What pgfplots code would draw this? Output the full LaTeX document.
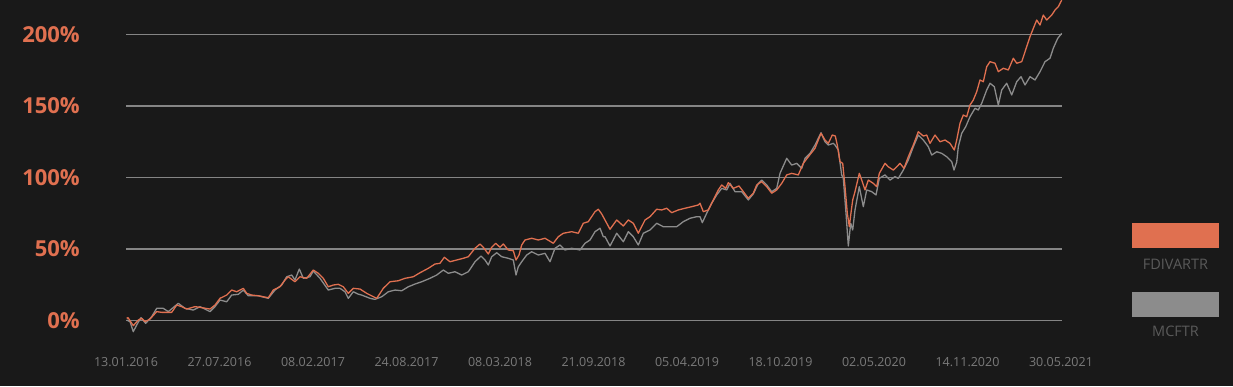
\documentclass[border=0pt]{standalone}
\usepackage{fontspec}
\setmainfont{Open Sans}
\usepackage{pgfplots}
\usepackage{pgfplotstable}
\pgfplotsset{compat=1.18}
\definecolor{bg}{HTML}{191919}
\definecolor{org}{HTML}{E07050}
\definecolor{gry}{HTML}{8C8C8C}
\definecolor{gridc}{HTML}{858585}
\definecolor{ticktxt}{HTML}{7A7A7A}
\definecolor{legtxt}{HTML}{5A5A5A}
\pgfplotstableread{
x v
0.7 1.5
2 2.0
7.3 -3.6
12.3 0.3
15.7 1.5
19 -0.8
24 1.0
30.7 6.2
35.7 5.7
45.7 5.7
50.7 10.8
55.7 9.7
60.7 8.0
69 9.7
75.7 9.0
84 8.0
89 10.8
94 15.5
100.7 17.8
105.7 21.3
110.7 20.1
117.3 22.5
120.7 19.0
125.7 17.8
132.3 17.3
142.3 15.9
147.3 21.3
154 23.6
159 28.3
162.3 30.6
169 27.1
174 30.6
180.7 29.5
187.3 35.3
192.3 33.0
197.3 29.5
202.3 23.6
207.3 24.8
212.3 25.3
217.3 23.6
222.3 19.0
227.3 22.5
234 22.0
240.7 19.0
250.7 15.5
257.3 22.5
264 27.1
272.3 27.8
279 29.5
287.3 30.6
294 33.4
302.3 36.5
309 39.5
314 40.0
318.3 44.2
324 41.1
330.7 42.3
337.3 43.5
342.3 44.6
349 50.5
354 53.5
357.3 51.2
362.3 46.5
365.7 51.2
369.7 54.0
374 51.2
377.3 53.5
382.3 49.3
387.3 48.8
390 42.3
393 45.8
395.7 52.8
399 56.3
405.7 57.5
412.3 56.3
419 57.5
427.3 54.0
432.3 58.6
437.3 61.0
445.7 62.1
452.3 61.0
457.3 68.0
462.3 69.1
469 76.1
472.3 77.8
475.7 74.5
484 63.8
490.7 70.3
497.3 66.1
502.3 70.3
507.3 68.0
512.3 61.0
519 70.3
524 72.6
530.7 77.8
535.7 77.3
540.7 78.5
545.7 75.4
552.3 77.3
559 78.5
565.7 79.6
572.3 80.8
574 82.0
577.3 76.1
582.3 77.3
587.3 84.3
592.3 91.3
595.7 94.8
599.7 92.4
602.3 96.4
607.3 92.4
613 94.1
617.3 90.1
622.3 85.5
627.3 89.0
630.7 94.8
635.7 97.1
640.7 93.6
645.7 89.0
650.7 91.3
655.7 95.9
660.7 101.8
665.7 102.9
672.3 101.8
677.3 109.9
682.3 114.5
689 120.4
695 130.9
699 126.2
702.3 123.9
706.3 129.7
709.3 129.0
711.3 122.7
714 111.1
716.7 109.9
719 93.6
721.3 75.0
723.3 65.6
724.7 73.8
726.7 84.3
729 90.1
733.3 102.9
735.7 98.2
739 91.3
742.3 98.2
747.3 95.9
750.7 93.6
753.3 102.9
759 109.9
762.3 107.5
767.3 105.2
770.7 107.5
774 109.9
778 106.4
782.3 114.5
787.3 122.7
792.3 132.0
797.3 129.0
800.7 129.7
804 123.9
809 129.7
814 125.0
819 126.2
824 123.9
828.3 119.2
830.7 126.2
834 137.9
837.3 143.7
840.7 142.5
844 150.7
847.3 154.2
850.7 160.0
854 168.2
857.3 167.0
860.7 177.5
864 181.0
869 179.9
872.3 174.0
877.3 176.4
882.3 175.2
887.3 183.4
890.7 179.9
895.7 181.0
900.7 191.5
904 198.5
907.3 204.3
910.7 210.1
914 206.6
917.3 213.6
920.7 210.1
925.7 213.6
929 217.1
932.3 219.4
935.7 224.1
}\fdiva
\pgfplotstableread{
x v
0.7 0.3
4 -0.8
7.3 -7.8
10.7 -3.1
15 2.0
19.7 -2.0
25.7 2.7
30.7 8.5
37.3 8.5
42.3 6.2
52.3 12.0
59 8.5
67.3 7.3
74 9.7
84 6.2
89 9.7
94 14.3
100.7 13.1
105.7 17.8
112.3 18.3
117.3 21.3
122.3 17.3
132.3 17.3
142.3 15.5
149 21.3
155.7 24.8
160.7 30.6
165.7 31.8
169 28.3
173.3 36.0
177.3 29.5
184 30.6
187.3 34.6
194 29.5
202.3 21.3
209 22.5
214 22.5
219 20.1
222.3 15.5
227.3 20.1
232 18.5
235.7 17.8
244 15.5
249 14.8
255.7 16.6
262.3 20.1
269 21.3
275.7 20.8
282.3 23.6
289 25.5
295.7 27.1
304 29.5
310.7 31.8
317.3 35.3
322.3 33.0
329 34.1
335.7 31.8
342.3 34.1
349 41.1
355 45.1
359 42.3
362.3 38.8
365.7 44.6
370.7 47.4
375.7 44.6
382.3 43.5
387.3 42.3
390 31.8
392.3 37.6
395.7 41.1
400.7 45.8
405.7 48.1
412.3 45.8
419 47.0
424 41.1
429 50.5
434 52.8
439 49.3
445.7 50.5
454 49.3
459 54.0
464 56.3
469 62.1
474 64.5
477.3 58.6
479 58.6
484 52.1
490.7 61.0
497.3 55.1
502.3 62.1
507.3 58.6
512.3 52.8
517.3 61.0
524 63.3
530.7 68.0
537.3 65.6
544 65.6
550.7 65.6
557.3 69.1
564 71.5
570.7 72.6
574 72.6
576.3 68.4
580.7 75.0
585.7 82.0
590.7 87.8
595.7 92.4
600.7 91.3
604 95.9
609 90.1
615.7 90.1
622.3 84.3
627.3 88.5
632.3 95.9
635.7 98.2
640.7 94.8
645.7 90.1
650.7 92.4
654 102.9
660.7 113.4
665.7 108.7
670.7 109.9
675.7 106.4
679 113.4
684 116.9
689 122.7
695 131.3
699 125.0
702.3 122.7
707.3 123.9
709 122.7
712.3 119.2
715.7 101.7
717.3 99.4
720 75.0
722.3 52.1
724.7 68.0
726.7 63.3
729 77.3
733.3 93.6
737.3 79.6
740.7 91.3
745.7 90.1
750 87.8
753.3 99.4
759 101.8
764 98.2
769 100.6
772.3 99.4
777.3 105.2
782.3 112.2
787.3 121.5
792.3 129.7
797.3 126.2
802.3 121.5
805.7 115.7
810.7 118.0
815.7 116.9
820.7 114.5
825.7 111.1
828 105.2
830.7 110.8
832.3 121.5
835.7 130.9
839.7 135.5
844 142.5
849 148.4
852.3 147.2
855.7 151.9
860.7 161.2
864 165.9
868.3 163.5
872.3 150.7
875.7 161.2
880.7 165.9
885.7 157.7
890.7 167.0
895 170.5
899 164.7
904 170.5
909 168.2
914 174.0
919 181.0
924 183.4
927.3 190.4
931.7 197.3
935.7 200.8
}\mcftr
\begin{document}
\begin{tikzpicture}[x=1pt,y=1pt]
\path[use as bounding box, fill=bg] (0,0) rectangle (1233,386);
\begin{axis}[
  at={(126pt,44.05pt)}, anchor=south west,
  scale only axis, width=936pt, height=343.2pt,
  xmin=0, xmax=936, ymin=-15, ymax=225,
  axis line style={draw=none},
  tick style={draw=none},
  ymajorgrids,
  major grid style={gridc, line width=1.3pt},
  xtick={0,93.5,187,280.5,374,467.5,561,654.5,748,841.5,935},
  xticklabels={13.01.2016,27.07.2016,08.02.2017,24.08.2017,08.03.2018,21.09.2018,05.04.2019,18.10.2019,02.05.2020,14.11.2020,30.05.2021},
  ytick={0,50,100,150,200},
  yticklabels={0\%,50\%,100\%,150\%,200\%},
  yticklabel style={font=\bfseries\fontsize{22}{26}\selectfont, text=org, anchor=east, inner sep=0pt, xshift=-46pt},
  xticklabel style={font=\fontsize{12.5}{15}\selectfont, text=ticktxt, anchor=north, inner sep=0pt, yshift=-15pt},
]
\addplot[gry, line width=1.3pt, line join=round] table[x=x,y=v] {\mcftr};
\addplot[org, line width=1.3pt, line join=round] table[x=x,y=v] {\fdiva};
\end{axis}
\fill[org] (1132.3,138.3) rectangle (1219,162.7);
\node[text=legtxt, font=\fontsize{14.5}{17}\selectfont, inner sep=0pt] at (1175.5,122) {FDIVARTR};
\fill[gry] (1132.3,69.3) rectangle (1219,94.3);
\node[text=legtxt, font=\fontsize{14.5}{17}\selectfont, inner sep=0pt] at (1175.5,54.3) {MCFTR};
\end{tikzpicture}
\end{document}
